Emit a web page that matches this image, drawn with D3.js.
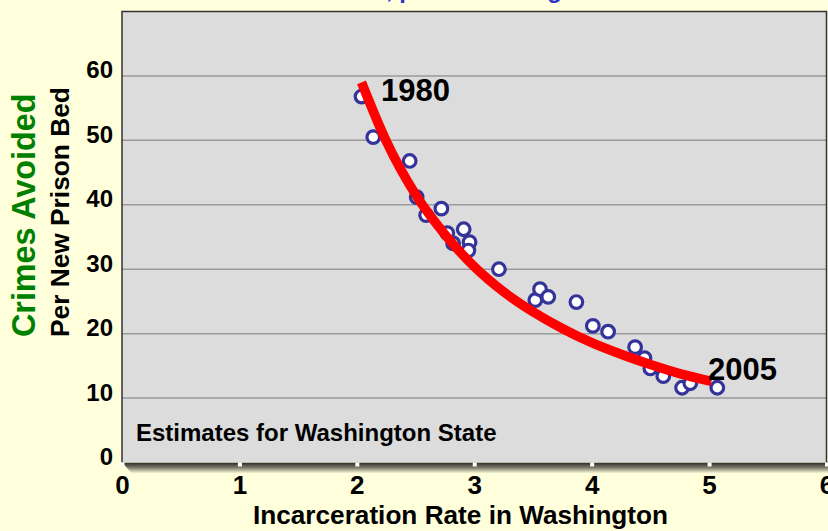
<!DOCTYPE html>
<html>
<head>
<meta charset="utf-8">
<script src="https://cdn.jsdelivr.net/npm/d3@7"></script>
<style>
  html, body { margin: 0; padding: 0; background: #ffffdc; }
  svg { display: block; }
  text { font-family: "Liberation Sans", Arial, Helvetica, sans-serif; font-weight: bold; }
</style>
</head>
<body>
<svg id="chart" width="828" height="531"></svg>
<script>
// ---- data ----
const rateX = [2.04, 2.14, 2.45, 2.51, 2.59, 2.72, 2.77, 2.82, 2.91, 2.96, 2.95, 3.21,
               3.52, 3.56, 3.63, 3.87, 4.01, 4.14, 4.37, 4.45, 4.50, 4.61, 4.77, 4.84, 5.07];
const crimesY = [56.8, 50.5, 46.8, 41.2, 38.4, 39.4, 35.6, 34.0, 36.2, 34.2, 32.9, 30.0,
                 25.2, 26.9, 25.7, 24.9, 21.2, 20.3, 17.9, 16.2, 14.6, 13.4, 11.6, 12.3, 11.6];
const trendX = [2.04, 2.25, 2.5, 2.75, 3.0, 3.25, 3.5, 3.75, 4.0, 4.25, 4.5, 4.75, 5.02];
const trendY = [59.0, 49.9, 41.6, 35.4, 30.4, 26.5, 23.4, 20.8, 18.6, 16.8, 15.2, 13.8, 12.6];
const xTicks = [0, 1, 2, 3, 4, 5, 6];
const yTicks = [0, 10, 20, 30, 40, 50, 60];
const yearLabels = ["1980", "2005"];
const titleText = "Fewer Crimes Avoided, per Bed at High Rates";
const xTitle = "Incarceration Rate in Washington";
const yTitle1 = "Crimes Avoided";
const yTitle2 = "Per New Prison Bed";
const noteText = "Estimates for Washington State";

const svg = d3.select("#chart");
const W = 828, H = 531;
const plot = { left: 122, right: 826.5, top: 11.5, bottom: 462.5 };

const x = d3.scaleLinear().domain([0, 6]).range([plot.left, plot.right]);
const y = d3.scaleLinear().domain([0, 70]).range([plot.bottom, plot.top]);

svg.append("rect").attr("width", W).attr("height", H).attr("fill", "#ffffdc");

// 3D floor shadow
const defs = svg.append("defs");
const grad = defs.append("linearGradient").attr("id", "floor")
  .attr("x1", 0).attr("y1", 0).attr("x2", 0).attr("y2", 1);
grad.append("stop").attr("offset", "0%").attr("stop-color", "#2a2a22");
grad.append("stop").attr("offset", "45%").attr("stop-color", "#77776a");
grad.append("stop").attr("offset", "100%").attr("stop-color", "#ffffdc");
svg.append("path")
  .attr("d", `M${plot.left},${plot.bottom} L${W},${plot.bottom} L${W},${plot.bottom + 11} L${plot.left + 10},${plot.bottom + 11} Z`)
  .attr("fill", "url(#floor)");

// plot background
svg.append("rect")
  .attr("x", plot.left).attr("y", plot.top)
  .attr("width", plot.right - plot.left).attr("height", plot.bottom - plot.top)
  .attr("fill", "#dcdcdc");

// gridlines
svg.append("g").selectAll("line").data(yTicks.filter(d => d > 0)).join("line")
  .attr("x1", plot.left).attr("x2", plot.right)
  .attr("y1", d => y(d)).attr("y2", d => y(d))
  .attr("stroke", "#9a9a9a").attr("stroke-width", 1.5);

// border (top, left, right)
svg.append("path")
  .attr("d", `M${plot.left},${plot.bottom} L${plot.left},${plot.top} L${plot.right},${plot.top} L${plot.right},${plot.bottom}`)
  .attr("fill", "none").attr("stroke", "#333").attr("stroke-width", 1.5);

// x tick marks (white squares) and labels
const xAxis = d3.axisBottom(x).tickValues(xTicks).tickSize(0).tickPadding(0).tickFormat(d3.format("d"));
const gx = svg.append("g").attr("transform", `translate(0,${plot.bottom})`).call(xAxis);
gx.select(".domain").remove();
gx.selectAll(".tick").append("rect")
  .attr("x", -2).attr("y", 0).attr("width", 4).attr("height", 4).attr("fill", "#ffffff");
gx.selectAll(".tick text")
  .attr("y", 31).attr("dy", null)
  .attr("fill", "#000").attr("font-size", 26).attr("font-weight", "bold")
  .attr("font-family", "Liberation Sans, Arial, sans-serif");

// y tick labels
const yAxis = d3.axisLeft(y).tickValues(yTicks).tickSize(0).tickPadding(0).tickFormat(d3.format("d"));
const gy = svg.append("g").attr("transform", `translate(113,0)`).call(yAxis);
gy.select(".domain").remove();
gy.selectAll(".tick text")
  .attr("x", 0).attr("dy", null).attr("y", 2)
  .attr("fill", "#000").attr("font-size", 24).attr("font-weight", "bold")
  .attr("font-family", "Liberation Sans, Arial, sans-serif");

// points
svg.append("g").selectAll("circle").data(rateX).join("circle")
  .attr("cx", d => x(d)).attr("cy", (d, i) => y(crimesY[i]))
  .attr("r", 6.3)
  .attr("fill", "#ffffff").attr("stroke", "#333399").attr("stroke-width", 3.2);

// trend line (drawn over the points)
const line = d3.line().x((d, i) => x(trendX[i])).y(d => y(d)).curve(d3.curveMonotoneX);
svg.append("path").datum(trendY)
  .attr("d", line)
  .attr("fill", "none").attr("stroke", "#ff0000").attr("stroke-width", 9.5);

// year labels
svg.append("text").attr("x", 381).attr("y", 100.5).attr("font-size", 31).attr("fill", "#000").text(yearLabels[0]);
svg.append("text").attr("x", 708).attr("y", 379.5).attr("font-size", 31).attr("fill", "#000").text(yearLabels[1]);

// note
svg.append("text").attr("x", 136).attr("y", 441).attr("font-size", 24).attr("fill", "#000").text(noteText);

// axis titles
svg.append("text").attr("x", (253 + 668) / 2).attr("y", 523.5).attr("text-anchor", "middle")
  .attr("font-size", 26.2).attr("fill", "#000").text(xTitle);
svg.append("text").attr("transform", "translate(35,337) rotate(-90)")
  .attr("font-size", 32.3).attr("fill", "#008000").text(yTitle1);
svg.append("text").attr("transform", "translate(68.5,337) rotate(-90)")
  .attr("font-size", 26.3).attr("fill", "#000").text(yTitle2);

// title (mostly above the visible area)
svg.append("text").attr("x", 129).attr("y", -2).attr("font-size", 24).attr("fill", "#3333cc").text(titleText);
</script>
</body>
</html>
